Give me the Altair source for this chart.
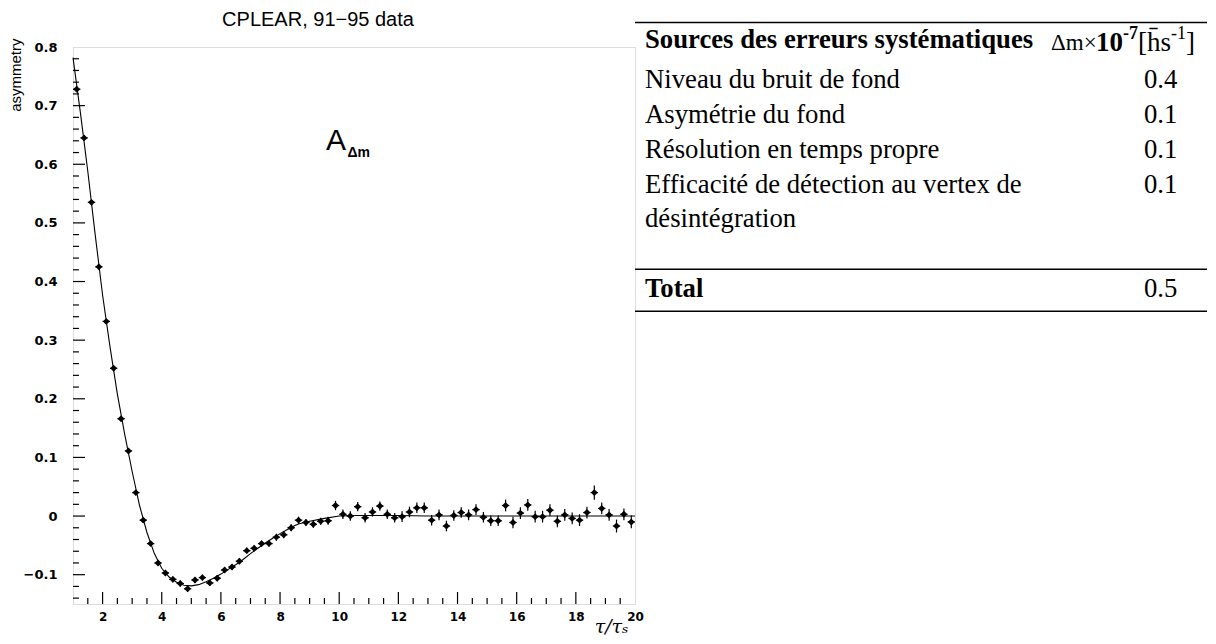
import altair as alt
import pandas as pd
import numpy as np

# ---------------- data ----------------
tau = [1.125, 1.375, 1.625, 1.875, 2.125, 2.375, 2.625, 2.875, 3.125, 3.375,
       3.625, 3.875, 4.125, 4.375, 4.625, 4.875, 5.125, 5.375, 5.625, 5.875,
       6.125, 6.375, 6.625, 6.875, 7.125, 7.375, 7.625, 7.875, 8.125, 8.375,
       8.625, 8.875, 9.125, 9.375, 9.625, 9.875, 10.125, 10.375, 10.625, 10.875,
       11.125, 11.375, 11.625, 11.875, 12.125, 12.375, 12.625, 12.875, 13.125, 13.375,
       13.625, 13.875, 14.125, 14.375, 14.625, 14.875, 15.125, 15.375, 15.625, 15.875,
       16.125, 16.375, 16.625, 16.875, 17.125, 17.375, 17.625, 17.875, 18.125, 18.375,
       18.625, 18.875, 19.125, 19.375, 19.625, 19.875]
asym = [0.728, 0.645, 0.535, 0.425, 0.332, 0.252, 0.166, 0.111, 0.040, -0.007,
        -0.047, -0.080, -0.097, -0.108, -0.115, -0.124, -0.109, -0.105, -0.114, -0.106,
        -0.092, -0.087, -0.077, -0.059, -0.055, -0.047, -0.047, -0.036, -0.032, -0.020,
        -0.007, -0.011, -0.014, -0.009, -0.008, 0.018, 0.003, 0.000, 0.016, -0.003,
        0.007, 0.017, 0.003, -0.003, -0.001, 0.007, 0.014, 0.014, -0.007, 0.002,
        -0.017, 0.001, 0.006, 0.002, 0.011, -0.002, -0.008, -0.008, 0.018, -0.011,
        0.005, 0.019, -0.001, -0.001, 0.010, -0.009, 0.002, -0.004, -0.007, 0.006,
        0.040, 0.013, 0.002, -0.017, 0.003, -0.010]
asym_err = [0.004, 0.004, 0.004, 0.004, 0.004, 0.004, 0.004, 0.004, 0.004, 0.004,
            0.004, 0.004, 0.004, 0.005, 0.005, 0.005, 0.005, 0.005, 0.005, 0.005,
            0.005, 0.005, 0.005, 0.005, 0.005, 0.005, 0.005, 0.006, 0.006, 0.006,
            0.006, 0.006, 0.006, 0.006, 0.007, 0.008, 0.008, 0.008, 0.008, 0.008,
            0.008, 0.008, 0.008, 0.008, 0.009, 0.009, 0.009, 0.009, 0.009, 0.009,
            0.009, 0.009, 0.009, 0.009, 0.009, 0.009, 0.009, 0.009, 0.010, 0.010,
            0.010, 0.010, 0.010, 0.010, 0.010, 0.010, 0.010, 0.010, 0.010, 0.010,
            0.012, 0.010, 0.010, 0.011, 0.010, 0.011]
bin_half = 0.125

fit_tau = [1.0, 1.25, 1.5, 1.75, 2.0, 2.25, 2.5, 2.75, 3.0, 3.25, 3.5, 3.75,
           4.0, 4.25, 4.5, 4.75, 5.0, 5.25, 5.5, 5.75, 6.0, 6.25, 6.5, 6.75,
           7.0, 7.25, 7.5, 7.75, 8.0, 8.25, 8.5, 8.65, 9.0, 9.5, 10.0, 10.5,
           11.0, 12.0, 13.0, 20.0]
fit_asym = [0.782, 0.688, 0.588, 0.480, 0.377, 0.289, 0.208, 0.139, 0.076, 0.018,
            -0.028, -0.064, -0.089, -0.104, -0.113, -0.118, -0.119, -0.117, -0.112,
            -0.106, -0.099, -0.091, -0.083, -0.074, -0.064, -0.055, -0.046, -0.038,
            -0.030, -0.023, -0.016, -0.013, -0.009, -0.004, 0.000, 0.001, 0.001,
            0.001, 0.000, 0.000]

x_labels = [2, 4, 6, 8, 10, 12, 14, 16, 18, 20]
y_labels = [-0.1, 0.0, 0.1, 0.2, 0.3, 0.4, 0.5, 0.6, 0.7, 0.8]

title_text = "CPLEAR, 91\u221295 data"
y_title = "asymmetry"
x_title = "\u03c4/\u03c4\u209b"

table_header = "Sources des erreurs systématiques"
table_labels = ["Niveau du bruit de fond", "Asymétrie du fond",
                "Résolution en temps propre", "Efficacité de détection au vertex de",
                "désintégration"]
table_values = ["0.4", "0.1", "0.1", "0.1", ""]
total_label = "Total"
total_value = "0.5"

# ---------------- layout constants ----------------
W, H = 562, 557
FONT = "Liberation Sans"
TICKFONT = "DejaVu Sans"
SERIF = "Liberation Serif"

xs = alt.Scale(domain=[1, 20], nice=False, zero=False)
ys = alt.Scale(domain=[-0.15, 0.8], nice=False, zero=False)

X_AX = alt.Axis(values=x_labels, ticks=False, domain=False, grid=False,
                labelFont=TICKFONT, labelFontSize=12, labelFontWeight="bold",
                labelColor="black", labelPadding=7, labelFlush=False,
                title=x_title, titleFont="DejaVu Serif", titleFontStyle="italic",
                titleFontWeight="normal", titleFontSize=19, titleColor="black",
                titleAnchor="end", titleAlign="right", titleBaseline="alphabetic",
                titleX=W - 7, titleY=28)
Y_AX = alt.Axis(values=y_labels, format=".1~f", ticks=False, domain=False, grid=False,
                labelFont=TICKFONT, labelFontSize=13, labelFontWeight="bold",
                labelColor="black", labelPadding=16, labelFlush=False,
                title=y_title, titleFont=FONT, titleFontSize=15, titleFontWeight="normal",
                titleColor="black", titleAngle=270, titleAlign="right",
                titleBaseline="bottom", titleX=-50, titleY=-9)

df = pd.DataFrame({"tau": tau, "asym": asym, "err": asym_err})
df["lo"] = df["asym"] - df["err"]
df["hi"] = df["asym"] + df["err"]
df["tl"] = df["tau"] - bin_half
df["th"] = df["tau"] + bin_half
fit = pd.DataFrame({"tau": fit_tau, "asym": fit_asym})

X = alt.X("tau:Q", scale=xs, axis=X_AX)
Y = alt.Y("asym:Q", scale=ys, axis=Y_AX)

fit_line = alt.Chart(fit).mark_line(color="black", strokeWidth=1.1).encode(x=X, y=Y)
hbar = alt.Chart(df).mark_rule(color="black", strokeWidth=1.2).encode(
    x=alt.X("tl:Q", scale=xs, axis=X_AX), x2="th:Q", y=Y)
vbar = alt.Chart(df).mark_rule(color="black", strokeWidth=1.2).encode(
    x=X, y=alt.Y("lo:Q", scale=ys, axis=Y_AX), y2="hi:Q")
pts = alt.Chart(df).mark_point(shape="diamond", filled=True, size=48, color="black",
                               opacity=1).encode(x=X, y=Y)

# inward ticks
x_major_t = pd.DataFrame({"v": [2, 4, 6, 8, 10, 12, 14, 16, 18]})
x_minor_t = pd.DataFrame({"v": [v for v in np.arange(1.5, 20, 0.5) if v % 2 != 0]})
y_major_t = pd.DataFrame({"v": [-0.1, 0.0, 0.1, 0.2, 0.3, 0.4, 0.5, 0.6, 0.7]})
y_minor_t = pd.DataFrame({"v": [round(v, 2) for v in np.arange(-0.14, 0.8, 0.02)
                                if abs(round(v * 10) - v * 10) > 1e-6]})
XV = alt.X("v:Q", scale=xs, axis=X_AX)
YV = alt.Y("v:Q", scale=ys, axis=Y_AX)
tk_xM = alt.Chart(x_major_t).mark_rule(color="black", strokeWidth=1.2).encode(
    x=XV, y=alt.value(H), y2=alt.value(H - 12))
tk_xm = alt.Chart(x_minor_t).mark_rule(color="black", strokeWidth=1.2).encode(
    x=XV, y=alt.value(H), y2=alt.value(H - 6))
tk_yM = alt.Chart(y_major_t).mark_rule(color="black", strokeWidth=1.2).encode(
    y=YV, x=alt.value(0), x2=alt.value(12))
tk_ym = alt.Chart(y_minor_t).mark_rule(color="black", strokeWidth=1.2).encode(
    y=YV, x=alt.value(0), x2=alt.value(6))

# A_Δm annotation
ann_A = alt.Chart(pd.DataFrame({"tau": [9.55], "asym": [0.624], "t": ["A"]})).mark_text(
    font=FONT, fontSize=30, align="left", baseline="alphabetic", color="black").encode(
    x=X, y=Y, text="t:N")
ann_s = alt.Chart(pd.DataFrame({"tau": [10.28], "asym": [0.613], "t": ["\u0394m"]})).mark_text(
    font=FONT, fontSize=14, fontWeight="bold", align="left", baseline="alphabetic",
    color="black").encode(x=X, y=Y, text="t:N")

plot = alt.layer(fit_line, hbar, vbar, pts, tk_xM, tk_xm, tk_yM, tk_ym, ann_A, ann_s)

# ---------------- chart title (as a text mark, above the plot) ----------------
title_mark = alt.Chart(pd.DataFrame({"t": [title_text]})).mark_text(
    font=FONT, fontSize=20, align="center", baseline="middle", color="black").encode(
    x=alt.value(245), y=alt.value(-27), text="t:N")

# ---------------- table ----------------
ts = alt.Scale(domain=[0, 1], range=[-7, 28], nice=False, zero=False)
TY = alt.Y("pos:Q", scale=ts, axis=None)
TX_L, TX_V, TX_H, RULE_L, RULE_R = 572, 1071, 978, 562, 1134
FS = 26.7

rows = pd.DataFrame({"pos": [1.15, 2.15, 3.15, 4.15, 5.12],
                     "label": table_labels, "value": table_values})
rules = pd.DataFrame({"pos": [-0.5, 6.55, 7.75]})
bold_rows = pd.DataFrame({"pos": [0.0, 7.1], "label": [table_header, total_label]})
total_v = pd.DataFrame({"pos": [7.1], "value": [total_value]})

t_rules = alt.Chart(rules).mark_rule(color="black", strokeWidth=1.4).encode(
    y=TY, x=alt.value(RULE_L), x2=alt.value(RULE_R))
t_lab = alt.Chart(rows).mark_text(font=SERIF, fontSize=FS, align="left", baseline="middle",
                                  color="black").encode(y=TY, x=alt.value(TX_L), text="label:N")
t_val = alt.Chart(rows).mark_text(font=SERIF, fontSize=FS, align="left", baseline="middle",
                                  color="black").encode(y=TY, x=alt.value(TX_V), text="value:N")
t_bold = alt.Chart(bold_rows).mark_text(font=SERIF, fontSize=FS, fontWeight="bold", align="left",
                                        baseline="middle", color="black").encode(
    y=TY, x=alt.value(TX_L), text="label:N")
t_tot = alt.Chart(total_v).mark_text(font=SERIF, fontSize=FS, align="left", baseline="middle",
                                     color="black").encode(y=TY, x=alt.value(TX_V), text="value:N")

# header of value column: Δm×10^-7[h̄s^-1]
parts = [("\u0394m\u00d7", "normal", 23, 0, 0.612 + 0.778 + 0.564),
         ("10", "bold", 27, 0, 1.0),
         ("-7", "bold", 18, -9, 0.833),
         ("[h\u0304s", "normal", 27, 0, 0.333 + 0.5 + 0.389),
         ("-1", "normal", 18, -9, 0.833),
         ("]", "normal", 27, 0, 0.333)]
hdr_layers = []
cx = TX_H
for txt, wt, fs, dy, w_em in parts:
    hdr_layers.append(
        alt.Chart(pd.DataFrame({"pos": [0.0], "t": [txt]})).mark_text(
            font=SERIF, fontSize=fs, fontWeight=wt, align="left", baseline="middle",
            dy=dy + 3, color="black").encode(y=TY, x=alt.value(cx), text="t:N"))
    cx += w_em * fs

table = alt.layer(t_rules, t_lab, t_val, t_bold, t_tot, *hdr_layers)

chart = alt.layer(plot, title_mark, table).resolve_scale(y="independent").properties(
    width=W, height=H,
    padding={"left": 0, "top": 2, "right": 0, "bottom": 0},
).configure_view(stroke="#222222", strokeWidth=1.3).configure(background="white")

chart.save("out.html", embed_options={"renderer": "svg", "actions": False})
